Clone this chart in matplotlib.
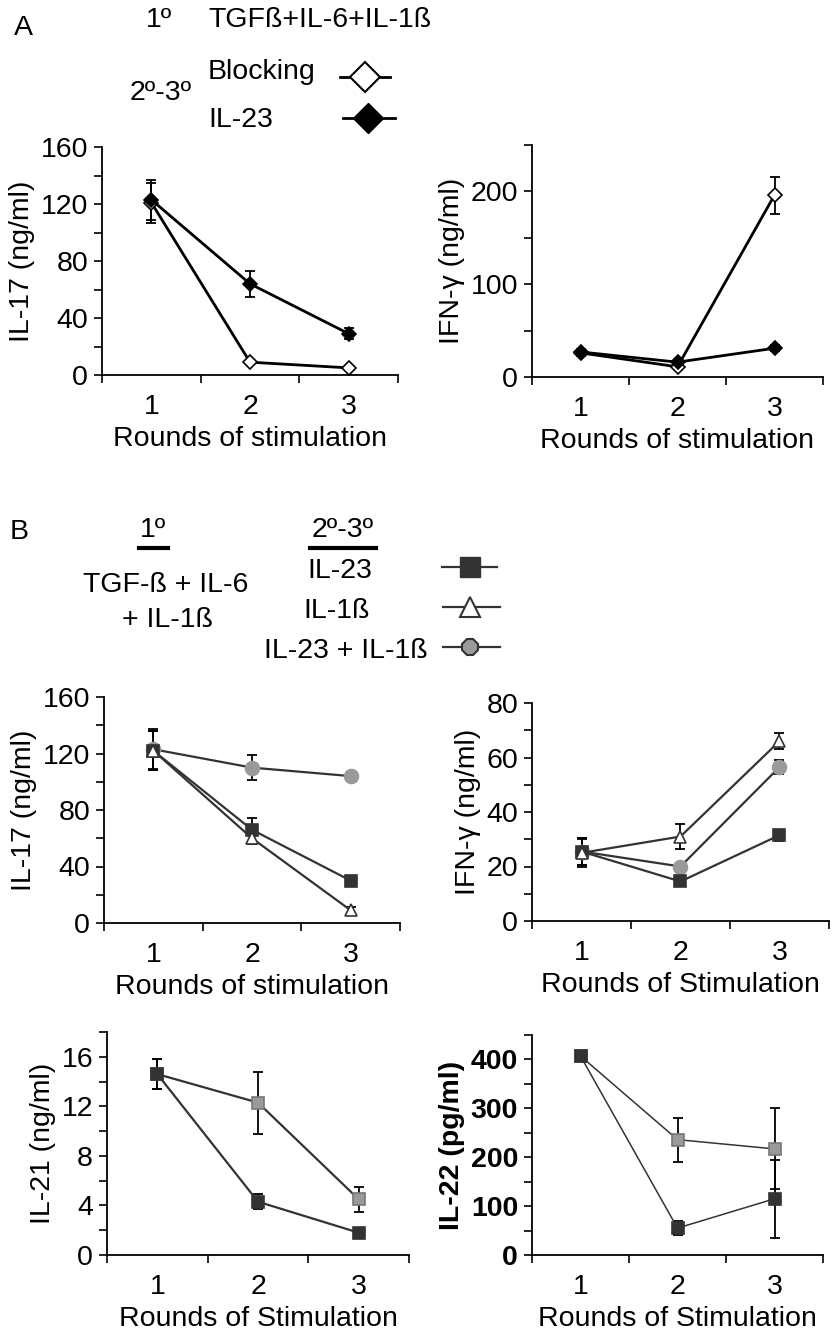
import matplotlib
matplotlib.use("Agg")
from matplotlib import pyplot as plt
from matplotlib.lines import Line2D

plt.rcParams["font.family"] = ["Liberation Sans", "DejaVu Sans"]
plt.rcParams["font.size"] = 20.5

rounds = [1, 2, 3]

# A: IL-17 and IFN-g after 1st round TGFb+IL-6+IL-1b, then blocking or IL-23
a_il17_blocking = [121, 9, 5]
a_il17_blocking_err = [14, 1, 1]
a_il17_il23 = [123, 64, 29]
a_il17_il23_err = [14, 9, 4]

a_ifng_blocking = [26, 11, 196]
a_ifng_blocking_err = [3, 2, 20]
a_ifng_il23 = [27, 16, 31]
a_ifng_il23_err = [3, 2, 3]

# B: 2nd-3rd rounds with IL-23, IL-1b or both
b_il17_il23 = [122, 66, 30]
b_il17_il23_err = [14, 8, 3]
b_il17_il1b = [122, 60, 9]
b_il17_il1b_err = [14, 4, 2]
b_il17_combo = [123, 110, 104]
b_il17_combo_err = [14, 9, 3]

b_ifng_il23 = [25.5, 14.5, 31.5]
b_ifng_il23_err = [5, 1, 2]
b_ifng_il1b = [25, 31, 66]
b_ifng_il1b_err = [5, 4.5, 3]
b_ifng_combo = [25.5, 20, 56.5]
b_ifng_combo_err = [5, 1, 2.5]

b_il21_il23 = [14.6, 4.3, 1.8]
b_il21_il23_err = [1.2, 0.6, 0.2]
b_il21_combo = [14.6, 12.3, 4.5]
b_il21_combo_err = [1.2, 2.5, 1.0]

b_il22_il23 = [407, 55, 115]
b_il22_il23_err = [8, 15, 80]
b_il22_combo = [407, 236, 217]
b_il22_combo_err = [8, 45, 83]

DARK = "#333333"
GRAY = "#9a9a9a"

W, H = 833, 1340
fig = plt.figure(figsize=(W / 100, H / 100), dpi=100)


def make_axes(x0, y0, x1, y1):
    # pixel box -> figure fraction
    return fig.add_axes([x0 / W, 1 - y1 / H, (x1 - x0) / W, (y1 - y0) / H])


def style_axes(ax, ymax, major, minor, xlabel, ylabel, ylabel_weight="normal"):
    ax.set_xlim(0.5, 3.5)
    ax.set_ylim(0, ymax)
    ax.set_xticks(rounds)
    ax.set_xticklabels([str(r) for r in rounds])
    ax.set_xticks([0.5, 1.5, 2.5, 3.5], minor=True)
    ax.tick_params(axis="x", which="major", length=0, pad=14)
    ax.tick_params(axis="x", which="minor", length=6, width=1.2, direction="out")
    ax.set_yticks(range(0, int(ymax) + 1, major))
    ax.set_yticks(range(0, int(ymax) + 1, minor), minor=True)
    ax.tick_params(axis="y", which="both", length=6, width=1.2, pad=4)
    for s in ("top", "right"):
        ax.spines[s].set_visible(False)
    for s in ("left", "bottom"):
        ax.spines[s].set_linewidth(1.3)
    ax.set_xlabel(xlabel, labelpad=4)
    ax.set_ylabel(ylabel, labelpad=4, fontweight=ylabel_weight)


def series(ax, y, err, marker, face, edge, ms, lw=1.6, color="black"):
    ax.errorbar(rounds, y, yerr=err, fmt="none", ecolor="black",
                elinewidth=1.3, capsize=3.5, capthick=1.3, zorder=2)
    ax.plot(rounds, y, color=color, lw=lw, marker=marker, ms=ms,
            mfc=face, mec=edge, mew=1.2, zorder=3, clip_on=False)


# ---- panel A ----
ax = make_axes(102, 147, 398, 375)
series(ax, a_il17_blocking, a_il17_blocking_err, "D", "white", "black", 7, lw=2)
series(ax, a_il17_il23, a_il17_il23_err, "D", "black", "black", 7, lw=2)
style_axes(ax, 160, 40, 20, "Rounds of stimulation", "IL-17 (ng/ml)")

ax = make_axes(532, 145, 823, 377)
series(ax, a_ifng_blocking, a_ifng_blocking_err, "D", "white", "black", 7, lw=2)
series(ax, a_ifng_il23, a_ifng_il23_err, "D", "black", "black", 7, lw=2)
style_axes(ax, 250, 100, 50, "Rounds of stimulation", "IFN-γ (ng/ml)")

# ---- panel B ----
ax = make_axes(104, 697, 400, 923)
series(ax, b_il17_combo, b_il17_combo_err, "o", GRAY, GRAY, 10, color=DARK)
series(ax, b_il17_il23, b_il17_il23_err, "s", DARK, DARK, 9, color=DARK)
series(ax, b_il17_il1b, b_il17_il1b_err, "^", "white", DARK, 9, color=DARK)
style_axes(ax, 160, 40, 20, "Rounds of stimulation", "IL-17 (ng/ml)")

ax = make_axes(532, 703, 829, 921)
series(ax, b_ifng_combo, b_ifng_combo_err, "o", GRAY, GRAY, 10, color=DARK)
series(ax, b_ifng_il23, b_ifng_il23_err, "s", DARK, DARK, 9, color=DARK)
series(ax, b_ifng_il1b, b_ifng_il1b_err, "^", "white", DARK, 9, color=DARK)
style_axes(ax, 80, 20, 10, "Rounds of Stimulation", "IFN-γ (ng/ml)")

ax = make_axes(107, 1032, 409, 1255)
series(ax, b_il21_combo, b_il21_combo_err, "s", GRAY, "#777777", 9, color=DARK)
series(ax, b_il21_il23, b_il21_il23_err, "s", DARK, DARK, 9, color=DARK)
style_axes(ax, 18, 4, 2, "Rounds of Stimulation", "IL-21 (ng/ml)")
ax.set_yticks(range(0, 17, 4))

ax = make_axes(532, 1035, 823, 1255)
series(ax, b_il22_combo, b_il22_combo_err, "s", GRAY, "#777777", 9, lw=1.1, color=DARK)
series(ax, b_il22_il23, b_il22_il23_err, "s", DARK, DARK, 9, lw=1.1, color=DARK)
style_axes(ax, 450, 100, 50, "Rounds of Stimulation", "IL-22 (pg/ml)",
           ylabel_weight="bold")
ax.set_yticks(range(0, 401, 100))
for lbl in ax.get_yticklabels():
    lbl.set_fontweight("bold")

# ---- headers and key (pixel coordinates) ----
hdr = fig.add_axes([0, 0, 1, 1], zorder=-1)
hdr.set_xlim(0, W)
hdr.set_ylim(H, 0)
hdr.axis("off")

hdr.text(14, 28, "A", va="center", ha="left")
hdr.text(146, 20, "1º", va="center", ha="left")
hdr.text(208, 20, "TGFß+IL-6+IL-1ß", va="center", ha="left")
hdr.text(130, 93, "2º-3º", va="center", ha="left")
hdr.text(208, 72, "Blocking", va="center", ha="left")
hdr.text(208, 120, "IL-23", va="center", ha="left")
hdr.plot([340, 365, 390], [77, 77, 77], color="black", lw=2, marker="D",
         ms=15, mfc="white", mec="black", mew=1.5, markevery=[1])
hdr.plot([343, 368, 395], [118, 118, 118], color="black", lw=2, marker="D",
         ms=15, mfc="black", mec="black", markevery=[1])

hdr.text(10, 532, "B", va="center", ha="left")
hdr.text(153, 530, "1º", va="center", ha="center")
hdr.add_line(Line2D([139, 168], [548, 548], color="black", lw=3))
hdr.text(343, 530, "2º-3º", va="center", ha="center")
hdr.add_line(Line2D([310, 376], [548, 548], color="black", lw=3))
hdr.text(166, 585, "TGF-ß + IL-6", va="center", ha="center")
hdr.text(167, 620, "+ IL-1ß", va="center", ha="center")
hdr.text(340, 571, "IL-23", va="center", ha="center")
hdr.text(337, 611, "IL-1ß", va="center", ha="center")
hdr.text(346, 651, "IL-23 + IL-1ß", va="center", ha="center")
hdr.plot([442, 470, 497], [567, 567, 567], color=DARK, lw=1.6, marker="s",
         ms=14, mfc=DARK, mec=DARK, markevery=[1])
hdr.plot([443, 470, 500], [607, 607, 607], color=DARK, lw=1.6, marker="^",
         ms=14, mfc="white", mec=DARK, mew=1.5, markevery=[1])
hdr.plot([443, 470, 500], [647, 647, 647], color=DARK, lw=1.6, marker="8",
         ms=13, mfc=GRAY, mec=DARK, mew=1.5, markevery=[1])

fig.savefig("out.png", dpi=100)
